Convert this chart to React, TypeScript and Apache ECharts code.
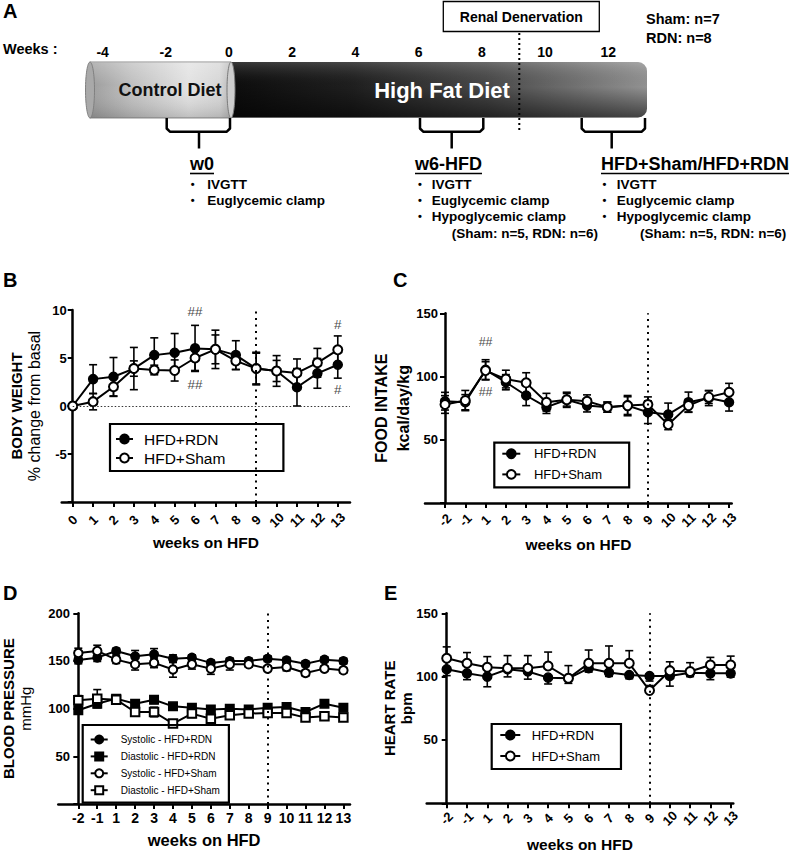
import React, { useEffect, useRef } from 'react';
import * as echarts from 'echarts';

const FONT = '"Liberation Sans", Arial, Helvetica, sans-serif';

// ---------------- Panel A: protocol timeline ----------------
const timelineWeeks = [-4, -2, 0, 2, 4, 6, 8, 10, 12];
const cohortNotes = ['Sham: n=7', 'RDN: n=8'];
const phaseTitles = ['w0', 'w6-HFD', 'HFD+Sham/HFD+RDN'];
const testsW0 = ['IVGTT', 'Euglycemic clamp'];
const testsFull = ['IVGTT', 'Euglycemic clamp', 'Hypoglycemic clamp'];
const clampN = '(Sham: n=5, RDN: n=6)';

// ---------------- Panel B: body weight (% change from basal) ----------------
const weeksB = [0, 1, 2, 3, 4, 5, 6, 7, 8, 9, 10, 11, 12, 13];
const bwRdn = [0, 2.8, 3.05, 3.9, 5.3, 5.55, 6.0, 5.9, 5.3, 3.9, 3.65, 1.95, 3.4, 4.3];
const bwRdnErr = [0, 1.5, 2.0, 2.2, 1.8, 2.0, 2.4, 2.0, 1.5, 1.7, 1.6, 1.95, 1.55, 1.4];
const bwSham = [0, 0.45, 2.0, 3.9, 3.75, 3.7, 5.0, 5.9, 4.7, 3.9, 3.65, 3.45, 4.5, 5.85];
const bwShamErr = [0, 0.85, 1.0, 0.8, 0.5, 1.1, 1.3, 1.5, 0.9, 1.6, 1.1, 1.45, 1.5, 1.45];
const annotB = [
  { x: 6, y: 9.8, text: '##' },
  { x: 6, y: 2.2, text: '##' },
  { x: 13, y: 8.5, text: '#' },
  { x: 13, y: 1.7, text: '#' },
];

// ---------------- Panels C, D, E share week categories ----------------
const weekLabels = ['-2', '-1', '1', '2', '3', '4', '5', '6', '7', '8', '9', '10', '11', '12', '13'];
const weekIdx = weekLabels.map((_, i) => i);
const rdnWeekLabel = '9';

// Panel C: food intake (kcal/day/kg)
const foodRdn = [80.5, 79.7, 105.3, 95.5, 85, 75.8, 81.6, 77, 75.8, 77, 71.8, 70, 79.7, 83, 79.7];
const foodRdnErr = [7, 6, 8, 6, 8, 5, 6, 5, 4, 7, 9, 9, 8, 6, 7];
const foodSham = [77.9, 81, 104.7, 98, 95, 79.7, 81.6, 80.5, 75.8, 77, 77.9, 62, 77, 83.7, 87.6];
const foodShamErr = [7, 8, 7, 7, 8, 7, 5, 5, 4, 8, 6, 4, 5, 5, 7];
const annotC = [
  { week: '1', y: 127, text: '##' },
  { week: '1', y: 88, text: '##' },
];

// Panel D: blood pressure (mmHg)
const sysRdn = [151, 153.5, 160.5, 155, 157, 152.4, 153.5, 148, 150, 150, 152.4, 150.7, 147, 151.4, 150];
const sysRdnErr = [4, 4, 3, 6, 6, 4, 3, 3, 3, 3, 3, 3, 3, 3, 3];
const diaRdn = [98.3, 105.2, 110.5, 105.2, 109.4, 102.4, 101, 99, 100, 99, 101, 101.7, 96.5, 105.2, 101];
const diaRdnErr = [4, 4, 3, 4, 4, 3, 3, 3, 3, 3, 3, 3, 3, 3, 3];
const sysSham = [158.4, 160.5, 151.4, 146.5, 148, 141, 146.5, 142, 146.5, 146.5, 142, 143.7, 137.4, 142, 140.2];
const sysShamErr = [5, 6, 4, 6, 5, 8, 5, 6, 6, 3, 3, 4, 3, 3, 3];
const diaSham = [108.7, 110.5, 109.4, 96.5, 96.5, 84.3, 94.8, 89.5, 93, 94.8, 95.5, 95.5, 90.6, 92, 90.6];
const diaShamErr = [5, 9.5, 4, 4, 5, 3, 4, 3, 3, 3, 3, 3, 3, 3, 3];

// Panel E: heart rate (bpm)
const hrRdn = [105.8, 102.6, 100, 105.8, 104, 99.2, 98.7, 106.6, 103.2, 101.3, 100.5, 100.5, 103, 102.6, 102.6];
const hrRdnErr = [5, 5, 8, 6, 6, 5, 4, 3, 3, 3, 4, 8, 3, 5, 3];
const hrSham = [114.5, 110.5, 107.4, 106.6, 106.6, 108.4, 98.7, 110.5, 110.5, 110.5, 89, 104.7, 104, 109.2, 109.2];
const hrShamErr = [9, 8.5, 8.4, 10, 10, 11, 10, 10.5, 13.7, 10, 4, 7, 7, 6, 7];

// ---------------- helpers ----------------
function measure(text: string, font: string) {
  const ctx = document.createElement('canvas').getContext('2d');
  if (!ctx) return text.length * 10;
  ctx.font = font;
  return ctx.measureText(text).width;
}

const lin = (x2: number, y2: number, stops: [number, string][]) => ({
  type: 'linear', x: 0, y: 0, x2, y2, global: false,
  colorStops: stops.map(([offset, color]) => ({ offset, color })),
});

function buildGraphics() {
  const els: any[] = [];
  let z = 1;
  const T = (x: number, y: number, text: string, size: number, o: any = {}) =>
    els.push({
      type: 'text', x, y, z: 50,
      style: {
        text, fontSize: size, fontWeight: o.weight ?? 'bold', fontFamily: FONT,
        fill: o.fill ?? '#000', align: o.align ?? 'left', verticalAlign: 'middle',
      },
    });

  // panel letters
  T(3, 11, 'A', 20);
  T(3, 280, 'B', 20);
  T(393, 280, 'C', 20);
  T(3, 593, 'D', 20);
  T(384, 593, 'E', 20);

  // timeline ticks
  const wx = (w: number) => 229 + w * 31.6;
  T(3, 49, 'Weeks :', 14.5);
  timelineWeeks.forEach((w) => T(wx(w), 52, String(w), 14, { align: 'center' }));

  // High fat diet cylinder
  els.push({ type: 'rect', z: z++, shape: { x: 226, y: 62, width: 421, height: 55.5, r: [0, 9, 9, 0] },
    style: { fill: lin(1, 0, [[0, '#0c0c0c'], [0.3, '#1f1f1f'], [0.62, '#4a4a4a'], [1, '#959595']]) } });
  els.push({ type: 'rect', z: z++, shape: { x: 226, y: 62, width: 421, height: 55.5, r: [0, 9, 9, 0] },
    style: { fill: lin(0, 1, [[0, 'rgba(255,255,255,0.18)'], [0.45, 'rgba(0,0,0,0.02)'], [1, 'rgba(0,0,0,0.55)']]) } });
  // Control diet cylinder
  els.push({ type: 'rect', z: z++, shape: { x: 90, y: 62, width: 141, height: 56 },
    style: { fill: lin(1, 0, [[0, '#9c9c9c'], [0.3, '#c0c0c0'], [0.7, '#e2e2e2'], [0.92, '#d6d6d6'], [1, '#b8b8b8']]), stroke: '#8c8c8c', lineWidth: 1 } });
  els.push({ type: 'rect', z: z++, shape: { x: 90, y: 62, width: 141, height: 56 },
    style: { fill: lin(0, 1, [[0, 'rgba(255,255,255,0.25)'], [0.4, 'rgba(255,255,255,0)'], [1, 'rgba(0,0,0,0.16)']]) } });
  els.push({ type: 'ellipse', z: z++, shape: { cx: 90, cy: 90, rx: 4.5, ry: 28 }, style: { fill: '#a9a9a9', stroke: '#808080', lineWidth: 1 } });
  els.push({ type: 'ellipse', z: z++, shape: { cx: 231, cy: 90, rx: 4, ry: 28 }, style: { fill: '#cdcdcd', stroke: '#7a7a7a', lineWidth: 1 } });
  T(170, 90, 'Control Diet', 18, { align: 'center', fill: '#111' });
  T(442, 90, 'High Fat Diet', 22, { align: 'center', fill: '#fff' });

  // renal denervation marker
  els.push({ type: 'line', z: 40, shape: { x1: 519.3, y1: 33, x2: 519.3, y2: 132 }, style: { stroke: '#000', lineWidth: 2, lineDash: [2, 3] } });
  els.push({ type: 'rect', z: 40, shape: { x: 443.3, y: 1.5, width: 156, height: 30 }, style: { fill: '#fff', stroke: '#000', lineWidth: 1.3 } });
  T(521.3, 16.5, 'Renal Denervation', 14, { align: 'center' });
  T(646, 19, cohortNotes[0], 14.5);
  T(646, 37.5, cohortNotes[1], 14.5);

  // braces
  const brace = (l: number, r: number, s: number) => {
    els.push({ type: 'polyline', z: 40, shape: { points: [[l, 118], [l, 128.5], [l + 3.2, 131.7], [r - 3.2, 131.7], [r, 128.5], [r, 118]] },
      style: { stroke: '#000', lineWidth: 2.5, fill: null, lineJoin: 'round' } });
    els.push({ type: 'line', z: 40, shape: { x1: s, y1: 131.7, x2: s, y2: 148.5 }, style: { stroke: '#000', lineWidth: 2.5 } });
  };
  brace(166.7, 230, 199);
  brace(420, 483.3, 451.7);
  brace(581.7, 645, 611.7);

  // phase headings (underlined) and test lists
  const headX = [190, 415, 601];
  const bulletX = [192.7, 420, 604.5];
  const textX = [207.3, 431.7, 616.7];
  const noteX = [0, 451.7, 640];
  const lists = [testsW0, testsFull, testsFull];
  const rowY = [184, 200, 216];
  const headFont = 18;
  phaseTitles.forEach((h, i) => {
    T(headX[i], 164, h, headFont);
    const w = measure(h, `bold ${headFont}px ${FONT}`);
    els.push({ type: 'line', z: 40, shape: { x1: headX[i], y1: 173.5, x2: headX[i] + w, y2: 173.5 }, style: { stroke: '#000', lineWidth: 1.6 } });
    lists[i].forEach((t, j) => {
      T(bulletX[i], rowY[j], '•', 11, { align: 'center' });
      T(textX[i], rowY[j], t, 13.5);
    });
    if (i > 0) T(noteX[i], 233, clampN, 13.5);
  });

  return els;
}

function errorRenderer(dir: 'both' | 'up' | 'down') {
  return (_params: any, api: any) => {
    const x = api.value(0);
    const y = api.value(1);
    const e = api.value(2);
    if (!e) return { type: 'group', children: [] };
    const p = api.coord([x, y]);
    const hi = api.coord([x, y + e]);
    const lo = api.coord([x, y - e]);
    const st = { stroke: '#000', lineWidth: 1.6 };
    const cap = 4;
    const y1 = dir === 'down' ? p[1] : hi[1];
    const y2 = dir === 'up' ? p[1] : lo[1];
    const ch: any[] = [{ type: 'line', shape: { x1: p[0], y1, x2: p[0], y2 }, style: st }];
    if (dir !== 'down') ch.push({ type: 'line', shape: { x1: p[0] - cap, y1: hi[1], x2: p[0] + cap, y2: hi[1] }, style: st });
    if (dir !== 'up') ch.push({ type: 'line', shape: { x1: p[0] - cap, y1: lo[1], x2: p[0] + cap, y2: lo[1] }, style: st });
    return { type: 'group', children: ch };
  };
}

const lineSeries = (name: string, gi: number, xs: number[], ys: number[], symbol: string, extra: any = {}) => ({
  type: 'line', name, xAxisIndex: gi, yAxisIndex: gi,
  data: xs.map((x, i) => [x, ys[i]]),
  symbol, symbolSize: 9, z: 3,
  lineStyle: { color: '#000', width: 2 },
  itemStyle: { color: '#000', borderColor: '#000', borderWidth: 1.5 },
  emphasis: { disabled: true },
  ...extra,
});

const errSeries = (gi: number, xs: number[], ys: number[], es: number[], dir: 'both' | 'up' | 'down') => ({
  type: 'custom', xAxisIndex: gi, yAxisIndex: gi, silent: true, z: 2,
  data: xs.map((x, i) => [x, ys[i], es[i]]),
  encode: { x: 0, y: 1 },
  renderItem: errorRenderer(dir),
});

const annotSeries = (gi: number, items: { x: number; y: number; text: string }[], size: number) => ({
  type: 'scatter', xAxisIndex: gi, yAxisIndex: gi, silent: true, z: 4,
  symbol: 'circle', symbolSize: 1, itemStyle: { color: 'rgba(0,0,0,0)' },
  data: items.map((a) => ({ value: [a.x, a.y], name: a.text })),
  label: { show: true, position: 'inside', formatter: (p: any) => p.name, fontSize: size, color: '#111', fontFamily: FONT },
});

const vDotted = (x: number) => ({
  silent: true, symbol: ['none', 'none'], label: { show: false }, animation: false,
  lineStyle: { color: '#000', width: 2, type: [2, 4.5] },
  data: [{ xAxis: x }],
});

const axisLineStyle = { color: '#000', width: 2.5 };
const tickStyle = { show: true, length: 5, lineStyle: { color: '#000', width: 2 } };

function xAxisCfg(gi: number, min: number, max: number, values: number[], labels: string[], opts: any) {
  return {
    gridIndex: gi, type: 'value', min, max,
    splitLine: { show: false },
    axisLine: { show: true, onZero: false, lineStyle: axisLineStyle },
    axisTick: { ...tickStyle, customValues: values },
    axisLabel: {
      customValues: values,
      formatter: (v: number) => labels[values.indexOf(Math.round(v))] ?? '',
      fontWeight: 'bold', fontSize: opts.labelSize, color: '#000', fontFamily: FONT,
      ...(opts.rotate ? { rotate: 45, align: 'center', verticalAlign: 'middle' } : {}),
      margin: opts.margin,
    },
    name: 'weeks on HFD', nameLocation: 'middle', nameGap: opts.nameGap, nameMoveOverlap: false,
    nameTextStyle: { fontWeight: 'bold', fontSize: opts.nameSize, color: '#000', fontFamily: FONT },
  };
}

function yAxisCfg(gi: number, min: number, max: number, name: string, rich: any, nameGap: number, margin: number) {
  return {
    gridIndex: gi, type: 'value', min, max, interval: 50,
    splitLine: { show: false },
    axisLine: { show: true, onZero: true, lineStyle: axisLineStyle },
    axisTick: tickStyle,
    axisLabel: {
      formatter: (v: number) => (v === min ? '' : String(v)),
      fontWeight: 'bold', fontSize: 13, color: '#000', fontFamily: FONT, margin,
    },
    name, nameLocation: 'middle', nameRotate: 90, nameGap, nameMoveOverlap: false,
    nameTextStyle: { color: '#000', fontFamily: FONT, rich },
  };
}

const legendBase = {
  orient: 'vertical', selectedMode: false, borderColor: '#000', borderWidth: 2.2,
};

function buildOption() {
  const idxOf = (w: string) => weekLabels.indexOf(w);
  const rdnIdx = idxOf(rdnWeekLabel);
  const RDN = 'HFD+RDN';
  const SHAM = 'HFD+Sham';

  const yB: any = yAxisCfg(0, -10, 10, '{a|BODY WEIGHT}\n{b|% change from basal}', {
    a: { fontSize: 15, fontWeight: 'bold', lineHeight: 18, fontFamily: FONT, color: '#000' },
    b: { fontSize: 16, lineHeight: 18, fontFamily: FONT, color: '#000' },
  }, 18.7, -5);
  yB.interval = 5;

  return {
    animation: false,
    backgroundColor: '#fff',
    textStyle: { fontFamily: FONT },
    graphic: { elements: buildGraphics() },
    grid: [
      { left: 61.7, top: 310, width: 288.3, height: 192, outerBoundsMode: 'none' },
      { left: 425, top: 313.3, width: 306.7, height: 189.7, outerBoundsMode: 'none' },
      { left: 58.3, top: 613.3, width: 291.7, height: 190.7, outerBoundsMode: 'none' },
      { left: 426.7, top: 613.3, width: 306.6, height: 190, outerBoundsMode: 'none' },
    ],
    xAxis: [
      xAxisCfg(0, -0.54, 13.6, weeksB, weeksB.map(String), { rotate: true, labelSize: 13, margin: 18, nameGap: 32.8, nameSize: 15.5 }),
      xAxisCfg(1, -0.986, 14.13, weekIdx, weekLabels, { rotate: true, labelSize: 13, margin: 17, nameGap: 33.5, nameSize: 15.5 }),
      xAxisCfg(2, -1.057, 14.35, weekIdx, weekLabels, { rotate: false, labelSize: 14, margin: 7, nameGap: 27, nameSize: 16.5 }),
      xAxisCfg(3, -0.986, 14.13, weekIdx, weekLabels, { rotate: true, labelSize: 13, margin: 15, nameGap: 33.2, nameSize: 15.5 }),
    ],
    yAxis: [
      yB,
      yAxisCfg(1, 0, 150, '{a|FOOD INTAKE}\n{a|kcal/day/kg}', {
        a: { fontSize: 16, fontWeight: 'bold', lineHeight: 22, fontFamily: FONT, color: '#000' },
      }, 11, -13),
      yAxisCfg(2, 0, 200, '{a|BLOOD PRESSURE}\n{b|mmHg}', {
        a: { fontSize: 15, fontWeight: 'bold', lineHeight: 17, fontFamily: FONT, color: '#000' },
        b: { fontSize: 15, lineHeight: 17, fontFamily: FONT, color: '#000' },
      }, 24, -11.7),
      yAxisCfg(3, 0, 150, '{a|HEART RATE}\n{a|bpm}', {
        a: { fontSize: 15, fontWeight: 'bold', lineHeight: 17, fontFamily: FONT, color: '#000' },
      }, 11.7, -11.3),
    ],
    legend: [
      { ...legendBase, data: [RDN, SHAM], left: 110, top: 424, padding: [7, 58, 5, 5], itemGap: 3, itemWidth: 17, itemHeight: 11,
        textStyle: { fontSize: 15.5, lineHeight: 16, color: '#000', fontFamily: FONT, padding: [0, 0, 0, 6] } },
      { ...legendBase, data: [RDN, SHAM], left: 494.3, top: 442.7, padding: [3, 27, 5, 7], itemGap: 4.7, itemWidth: 18, itemHeight: 11,
        textStyle: { fontSize: 13, lineHeight: 16, color: '#000', fontFamily: FONT, padding: [0, 0, 0, 8.6] } },
      { ...legendBase, data: ['Systolic - HFD+RDN', 'Diastolic - HFD+RDN', 'Systolic - HFD+Sham', 'Diastolic - HFD+Sham'],
        left: 82.7, top: 725, padding: [8, 9, 6, 7], itemGap: 3.9, itemWidth: 17, itemHeight: 10,
        textStyle: { fontSize: 10, lineHeight: 13, color: '#000', fontFamily: FONT, padding: [0, 0, 0, 8] } },
      { ...legendBase, data: [RDN, SHAM], left: 491.7, top: 724, padding: [3, 21, 5, 7.6], itemGap: 5, itemWidth: 20, itemHeight: 11,
        textStyle: { fontSize: 13, lineHeight: 16, color: '#000', fontFamily: FONT, padding: [0, 0, 0, 6.4] } },
    ],
    series: [
      // B
      errSeries(0, weeksB, bwRdn, bwRdnErr, 'both'),
      errSeries(0, weeksB, bwSham, bwShamErr, 'both'),
      lineSeries(RDN, 0, weeksB, bwRdn, 'circle', {
        markLine: {
          silent: true, symbol: ['none', 'none'], label: { show: false }, animation: false,
          data: [
            { xAxis: 9, lineStyle: { color: '#000', width: 2, type: [2, 4.5] } },
            [{ coord: [0, 0], lineStyle: { color: '#333', width: 1, type: [1.5, 2] } }, { coord: [13.6, 0] }],
          ],
        },
      }),
      lineSeries(SHAM, 0, weeksB, bwSham, 'emptyCircle'),
      annotSeries(0, annotB, 13.5),
      // C
      errSeries(1, weekIdx, foodRdn, foodRdnErr, 'both'),
      errSeries(1, weekIdx, foodSham, foodShamErr, 'both'),
      lineSeries(RDN, 1, weekIdx, foodRdn, 'circle', { markLine: vDotted(rdnIdx) }),
      lineSeries(SHAM, 1, weekIdx, foodSham, 'emptyCircle'),
      annotSeries(1, annotC.map((a) => ({ x: idxOf(a.week), y: a.y, text: a.text })), 12.5),
      // D
      errSeries(2, weekIdx, sysRdn, sysRdnErr, 'both'),
      errSeries(2, weekIdx, diaRdn, diaRdnErr, 'both'),
      errSeries(2, weekIdx, sysSham, sysShamErr, 'both'),
      errSeries(2, weekIdx, diaSham, diaShamErr, 'both'),
      lineSeries('Systolic - HFD+RDN', 2, weekIdx, sysRdn, 'circle', { markLine: vDotted(rdnIdx), symbolSize: 8.5 }),
      lineSeries('Diastolic - HFD+RDN', 2, weekIdx, diaRdn, 'rect', { symbolSize: 8.5 }),
      lineSeries('Systolic - HFD+Sham', 2, weekIdx, sysSham, 'emptyCircle', { symbolSize: 8.5 }),
      lineSeries('Diastolic - HFD+Sham', 2, weekIdx, diaSham, 'emptyRect', { symbolSize: 8.5 }),
      // E
      errSeries(3, weekIdx, hrRdn, hrRdnErr, 'down'),
      errSeries(3, weekIdx, hrSham, hrShamErr, 'up'),
      lineSeries(RDN, 3, weekIdx, hrRdn, 'circle', { markLine: vDotted(rdnIdx) }),
      lineSeries(SHAM, 3, weekIdx, hrSham, 'emptyCircle'),
    ],
  };
}

export default function App() {
  const ref = useRef<HTMLDivElement>(null);
  useEffect(() => {
    if (!ref.current) return;
    const chart = echarts.init(ref.current, undefined, { renderer: 'svg' });
    chart.setOption(buildOption() as any);
    return () => chart.dispose();
  }, []);
  return (
    <div
      ref={ref}
      style={{ position: 'absolute', left: 0, top: 0, width: 799, height: 852, background: '#fff' }}
    />
  );
}
